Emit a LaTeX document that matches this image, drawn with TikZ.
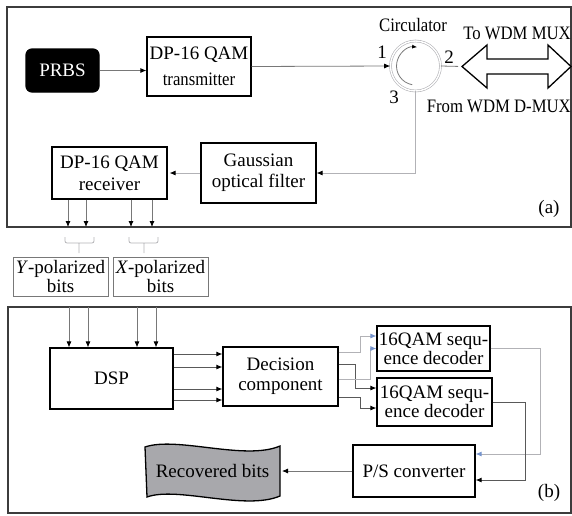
\documentclass[tikz,border=0pt]{standalone}
\usepackage{fontspec}
\setmainfont{Liberation Serif}
\newfontfamily\narrowrm{Liberation Serif}[FakeStretch=0.88]
\usetikzlibrary{arrows.meta}
\definecolor{linegray}{RGB}{120,120,120}
\definecolor{lightline}{RGB}{178,178,182}
\definecolor{tipblue}{RGB}{118,148,205}
\definecolor{fillgray}{RGB}{168,168,172}
\definecolor{framegray}{RGB}{60,60,60}

\begin{document}
\begin{tikzpicture}[x=1pt,y=-1pt]
	\tikzset{block/.style = {shape=rectangle,draw,line width=1.2pt,align=center,inner sep=0pt,font=\fontsize{19}{21}\selectfont}}
	\tikzset{bitsbox/.style = {shape=rectangle,draw=linegray,line width=0.7pt,align=center,inner sep=0pt,minimum width=95pt,minimum height=39pt,font=\fontsize{19}{19}\selectfont}}
	\tikzset{label/.style = {font=\fontsize{19}{21}\selectfont,inner sep=1pt}}
	\tikzset{narrowlabel/.style = {font=\narrowrm\fontsize{19}{21}\selectfont,inner sep=1pt}}
	\tikzset{edge/.style = {draw=linegray,line width=0.8pt,-{Latex[length=6pt,width=5pt,color=black]}}}
	\tikzset{faint/.style = {draw=lightline,line width=0.8pt,-{Latex[length=6pt,width=5pt,color=tipblue]}}}
	\tikzset{dark/.style = {draw=black!65,line width=0.9pt,-{Latex[length=6pt,width=5pt,color=black]}}}
	\tikzset{panel/.style = {draw=framegray,line width=1.6pt}}
	\useasboundingbox (0,0) rectangle (572,515);
	\draw[panel] (7,7) rectangle (571,227);
	\draw[panel] (8,307) rectangle (571,513);
	% panel (a)
	\node[block,fill=black,text=white,rounded corners=6pt,minimum width=73pt,minimum height=43pt] (prbs) at (62.5,70.5) {PRBS};
	\node[block,minimum width=104pt,minimum height=59pt,font=\fontsize{19}{26}\selectfont] (tx) at (199,66.5) {DP-16 QAM\\{\narrowrm transmitter}};
	\node[circle,draw=lightline,double,double distance=1.4pt,line width=0.6pt,minimum size=50pt,inner sep=0pt] (circ) at (415.5,66) {};
	\node[block,minimum width=115pt,minimum height=60pt] (gauss) at (258.5,173) {Gaussian\\optical filter};
	\node[block,minimum width=115pt,minimum height=52pt,font=\fontsize{19}{22}\selectfont] (rx) at (109.5,173) {DP-16 QAM\\receiver};
	\node[narrowlabel] (circlab) at (413,25) {Circulator};
	\node[label] (port1) at (382,52) {1};
	\node[label] (port2) at (449,57) {2};
	\node[label] (port3) at (394,97) {3};
	\node[narrowlabel,anchor=east] (tomux) at (572,33) {To WDM MUX};
	\node[narrowlabel,anchor=east] (fromdmux) at (572,106) {From WDM D-MUX};
	\node[label] (tagA) at (549,209) {(a)};
	\coordinate (wdm) at (462,66.5);
	\draw[line width=1.3pt] (wdm) -- (487,45) -- (487,59) -- (548,59) -- (548,45) -- (571,66.5) -- (548,88) -- (548,74) -- (487,74) -- (487,88) -- cycle;
	\draw[draw=linegray,line width=0.8pt,-{Latex[length=5pt,width=4pt,color=black]}] (circ.center) ++(100:19) arc[start angle=100,end angle=275,radius=19];
	%edges
	\draw[edge] (prbs.east) -- (prbs.east -| tx.west);
	\draw[edge] (tx.east) -- (circ.west);
	\draw[draw=linegray,line width=0.8pt,shorten >=4pt] (circ.east) -- (wdm);
	\draw[edge,draw=lightline] (circ.south) |- (gauss.east);
	\draw[edge,draw=lightline,shorten >=2pt] (gauss.west) -- (rx.east);
	\foreach \x in {68,86,131,152} {
		\coordinate (r\x) at (\x,227);
		\draw[edge] (rx.south -| r\x) -- (r\x);
	}
	% brackets and bit groups
	\draw[draw=lightline,line width=0.8pt,rounded corners=2pt] (65,237) -- (65,243) -- (94,243) -- (94,237) (79,243) -- (79,253);
	\draw[draw=lightline,line width=0.8pt,rounded corners=2pt] (129,237) -- (129,243) -- (158,243) -- (158,237) (144,243) -- (144,253);
	\node[bitsbox] (ybits) at (60.5,276.5) {\textit{Y}-polarized\\bits};
	\node[bitsbox] (xbits) at (160.5,276.5) {\textit{X}-polarized\\bits};
	% panel (b)
	\node[block,minimum width=123pt,minimum height=61pt] (dsp) at (111.5,378.5) {DSP};
	\node[block,minimum width=115pt,minimum height=59pt,font=\fontsize{19}{20}\selectfont] (dc) at (280.5,376.5) {Decision\\component};
	\node[block,minimum width=113pt,minimum height=45pt,font=\fontsize{19}{19}\selectfont] (d1) at (433.5,348.5) {16QAM sequ-\\ence decoder};
	\node[block,minimum width=115pt,minimum height=48pt,font=\fontsize{19}{19}\selectfont] (d2) at (434.5,402) {16QAM sequ-\\ence decoder};
	\node[block,minimum width=122pt,minimum height=52pt] (ps) at (414,471) {P/S converter};
	\draw[line width=1.3pt,fill=fillgray] (145,447) .. controls (177,436) and (245,461) .. (280,446) -- (280,496) .. controls (245,511) and (177,486) .. (147,497) -- cycle;
	\node[label] (rec) at (212.5,471) {Recovered bits};
	\coordinate (recin) at (282,471);
	\node[label] (tagB) at (549,493) {(b)};
	%edges
	\foreach \x in {69,88,137,156} {
		\coordinate (t\x) at (\x,307);
		\draw[edge] (t\x) -- (t\x |- dsp.north);
	}
	\foreach \o in {24.5,11.5,-10.5,-21.5}
		\draw[dark] ([yshift=\o pt]dsp.east) -- ([yshift=\o pt]dsp.east -| dc.west);
	\draw[faint] ([yshift=24.5pt]dc.east) -- ++(22,0) |- ([yshift=12.5pt]d1.west);
	\draw[dark] ([yshift=12.5pt]dc.east) -- ++(17,0) |- ([yshift=14pt]d2.west);
	\draw[faint] ([yshift=-2.5pt]dc.east) -- ++(32,0) |- (d1.west);
	\draw[dark] ([yshift=-20.5pt]dc.east) -- ++(22,0) |- ([yshift=-6pt]d2.west);
	\draw[faint] (d1.east) -- ++(50,0) |- ([yshift=17pt]ps.east);
	\draw[dark] (d2.east) -- ++(33,0) |- ([yshift=-9pt]ps.east);
	\draw[edge] (ps.west) -- (recin);
\end{tikzpicture}
\end{document}
